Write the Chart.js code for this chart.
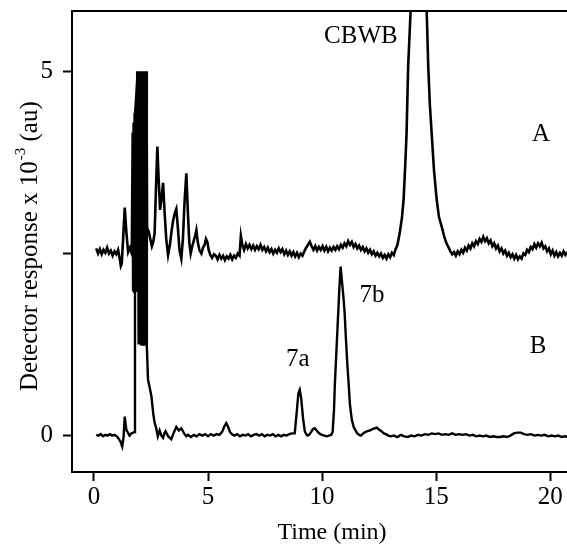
<!DOCTYPE html>
<html>
<head>
<meta charset="utf-8">
<script src="https://cdn.jsdelivr.net/npm/chart.js@4/dist/chart.umd.min.js"></script>
<style>
html,body{margin:0;padding:0;background:#fff;}
#wrap{width:567px;height:544px;position:relative;}
</style>
</head>
<body>
<div id="wrap"><canvas id="c" width="567" height="544"></canvas></div>
<script>
// ---- Data ----
// Trace A (offset chromatogram, CBWB)
const timeA = [
  0.10,0.18,0.26,0.34,0.42,0.50,0.58,0.66,0.74,0.82,0.90,0.98,1.06,1.12,1.18,1.22,1.28,1.35,1.42,1.50,1.58,1.66,
  1.70,1.72,1.74,1.76,1.78,1.80,1.82,1.84,1.86,1.88,1.90,1.92,1.94,1.96,1.98,2.00,2.02,2.04,2.06,2.08,2.10,2.12,2.14,2.16,2.18,2.20,2.22,2.24,2.26,2.28,2.30,
  2.33,2.40,2.47,2.54,2.60,2.66,2.72,2.78,2.84,2.90,2.96,3.03,3.10,3.17,3.25,3.33,3.40,3.47,3.54,3.61,3.68,3.75,3.83,3.90,3.97,4.05,4.12,4.18,4.24,4.31,4.38,4.44,4.49,4.55,4.62,4.71,4.78,4.85,4.91,4.97,5.03,5.10,5.18,5.26,
  5.34,5.42,5.50,5.58,5.66,5.74,5.82,5.90,5.98,6.06,6.14,6.22,6.30,6.38,6.44,6.50,6.58,6.66,6.74,6.82,6.90,6.98,7.06,7.14,7.22,7.30,7.38,7.46,7.54,7.62,7.70,7.78,7.86,7.94,8.02,8.10,8.18,8.26,8.34,8.42,8.50,8.58,8.66,8.74,8.82,8.90,8.98,9.06,9.14,9.22,9.30,9.38,9.46,9.54,9.62,9.70,9.78,9.86,9.94,10.02,10.10,10.18,10.26,10.34,10.42,10.50,10.58,10.66,10.74,10.82,10.90,10.98,11.06,11.14,11.22,11.30,11.38,11.46,11.54,11.62,11.70,11.78,11.86,11.94,12.02,12.10,12.18,12.26,12.34,12.42,12.50,12.58,12.66,12.74,12.82,12.90,12.98,13.06,13.14,13.22,
  13.30,13.40,13.50,13.57,13.64,13.70,13.77,13.88,14.00,14.10,14.22,14.35,14.45,14.58,14.65,14.72,14.80,14.90,15.02,15.12,15.24,15.36,15.45,15.53,15.62,15.70,
  15.78,15.86,15.94,16.02,16.10,16.18,16.26,16.34,16.42,16.50,16.58,16.66,16.74,16.82,16.90,16.98,17.06,17.14,17.22,17.30,17.38,17.46,17.54,17.62,17.70,17.78,17.86,17.94,18.02,18.10,18.18,18.26,18.34,18.42,18.50,18.58,18.66,18.74,18.82,18.90,18.98,19.06,19.14,19.22,19.30,19.38,19.46,19.54,19.62,19.70,19.78,19.86,19.94,20.02,20.10,20.18,20.26,20.34,20.42,20.50,20.58,20.66,20.74,20.82
];
const respA = [
  2.57,2.50,2.56,2.49,2.55,2.51,2.58,2.50,2.54,2.47,2.53,2.49,2.55,2.45,2.33,2.36,2.70,3.13,2.80,2.52,2.58,2.50,
  4.16,2.00,4.30,1.98,4.43,2.00,4.50,1.97,4.62,2.00,5.00,1.97,5.00,2.00,5.00,1.97,5.00,2.00,5.00,1.97,5.00,2.00,5.00,1.97,5.00,2.00,5.00,1.97,5.00,2.00,5.00,
  2.85,2.80,2.70,2.60,2.66,2.78,3.40,3.97,3.50,3.10,3.25,3.47,3.05,2.70,2.48,2.62,2.80,2.95,3.05,3.11,2.85,2.55,2.43,2.70,3.20,3.60,3.05,2.65,2.50,2.60,2.68,2.75,2.82,2.66,2.55,2.50,2.58,2.62,2.70,2.66,2.55,2.48,2.44,2.49,
  2.47,2.42,2.48,2.43,2.47,2.41,2.46,2.43,2.48,2.42,2.47,2.44,2.50,2.47,2.74,2.62,2.55,2.63,2.57,2.62,2.56,2.61,2.55,2.60,2.56,2.62,2.55,2.59,2.53,2.58,2.52,2.56,2.50,2.55,2.51,2.57,2.52,2.56,2.49,2.54,2.48,2.53,2.47,2.52,2.46,2.51,2.45,2.50,2.47,2.53,2.58,2.62,2.66,2.60,2.55,2.60,2.54,2.59,2.55,2.60,2.54,2.59,2.53,2.58,2.54,2.59,2.55,2.60,2.56,2.62,2.58,2.64,2.60,2.67,2.62,2.66,2.59,2.63,2.57,2.61,2.55,2.59,2.53,2.57,2.51,2.55,2.49,2.53,2.47,2.51,2.46,2.50,2.44,2.48,2.43,2.49,2.45,2.51,2.48,2.56,
  2.62,2.78,3.00,3.24,3.70,4.15,5.07,5.85,6.90,7.55,7.90,7.60,6.95,5.85,5.07,4.55,4.15,3.65,3.24,3.00,2.87,2.72,2.64,2.59,2.53,2.49,
  2.52,2.47,2.53,2.49,2.55,2.51,2.58,2.54,2.61,2.57,2.64,2.60,2.67,2.63,2.70,2.66,2.73,2.67,2.71,2.64,2.68,2.60,2.64,2.57,2.61,2.53,2.57,2.50,2.54,2.47,2.51,2.45,2.49,2.43,2.48,2.42,2.46,2.43,2.50,2.48,2.55,2.52,2.59,2.56,2.63,2.58,2.64,2.60,2.65,2.57,2.60,2.53,2.57,2.49,2.54,2.47,2.52,2.46,2.51,2.47,2.53,2.48,2.52,2.49
];
// Trace B (7a / 7b)
const timeB = [
  0.10,0.20,0.30,0.40,0.50,0.60,0.70,0.80,0.90,1.00,1.08,1.16,1.24,1.30,1.35,1.42,1.49,1.56,1.64,1.72,1.77,1.80,1.86,1.92,
  1.96,1.98,2.00,2.02,2.04,2.06,2.08,2.10,2.12,2.14,2.16,2.18,2.20,2.22,2.24,2.26,2.28,2.30,2.32,
  2.37,2.45,2.52,2.60,2.66,2.73,2.80,2.88,2.96,3.03,3.10,3.14,3.25,3.39,3.50,3.61,3.72,3.83,3.95,4.05,4.12,4.25,4.38,4.50,4.62,4.75,4.88,5.00,5.12,5.25,5.38,5.50,5.62,5.72,5.80,5.88,5.96,6.04,6.15,6.28,6.40,6.52,6.64,6.76,6.88,7.00,7.12,7.24,7.36,7.48,7.60,7.72,7.84,7.96,8.08,8.20,8.32,8.44,8.56,8.68,
  8.80,8.88,8.96,9.02,9.08,9.16,9.24,9.30,9.36,9.43,9.52,9.60,9.68,9.76,9.84,9.92,10.00,10.10,10.20,10.30,10.40,
  10.46,10.52,10.56,10.64,10.70,10.76,10.81,10.86,10.92,10.98,11.04,11.10,11.16,11.22,11.30,11.38,11.46,11.54,11.62,11.70,
  11.80,11.90,12.00,12.10,12.20,12.30,12.40,12.50,12.60,12.70,12.80,12.90,13.00,13.15,13.30,13.45,13.60,13.75,13.90,14.05,14.20,14.35,14.50,14.65,14.80,14.95,15.10,15.25,15.40,15.55,15.70,15.85,16.00,16.15,16.30,16.45,16.60,16.75,16.90,17.05,17.20,17.35,17.50,17.65,17.80,17.95,18.10,18.25,18.40,18.55,18.70,18.85,19.00,19.15,19.30,19.45,19.60,19.75,19.90,20.05,20.20,20.35,20.50,20.65,20.80
];
const respB = [
  0.01,0.00,0.02,-0.01,0.01,0.00,0.02,0.00,0.01,-0.01,-0.04,-0.08,-0.15,-0.02,0.26,0.08,0.04,0.00,0.03,0.04,0.05,4.40,4.70,5.00,
  1.25,5.00,1.25,5.00,1.25,5.00,1.25,5.00,1.25,5.00,1.25,5.00,1.25,5.00,1.25,5.00,1.25,5.00,1.22,
  0.77,0.65,0.54,0.30,0.18,0.10,-0.01,0.07,0.00,-0.03,0.04,0.06,-0.01,-0.05,0.04,0.12,0.07,0.10,0.03,-0.01,0.01,-0.02,0.01,-0.01,0.02,0.00,0.02,-0.01,0.02,0.00,0.02,0.01,0.05,0.13,0.17,0.12,0.05,0.02,0.00,0.02,-0.01,0.01,0.00,0.02,-0.01,0.01,0.02,0.00,0.02,-0.01,0.01,0.00,0.02,-0.01,0.01,-0.01,0.01,0.00,0.02,0.03,
  0.03,0.30,0.58,0.63,0.52,0.25,0.06,0.02,0.00,0.01,0.05,0.09,0.10,0.07,0.04,0.02,0.01,0.00,-0.01,0.00,0.01,
  0.05,0.35,0.72,1.25,1.65,2.05,2.32,2.15,1.95,1.72,1.35,1.00,0.72,0.42,0.22,0.12,0.07,0.03,0.01,0.00,
  0.03,0.05,0.06,0.07,0.09,0.10,0.11,0.08,0.06,0.03,0.02,0.00,-0.01,0.00,-0.02,0.01,-0.01,-0.02,0.00,-0.01,0.01,0.00,0.02,0.01,0.03,0.02,0.03,0.01,0.02,0.01,0.03,0.01,0.02,0.01,0.02,0.00,0.01,-0.01,0.00,-0.01,0.00,-0.02,-0.01,-0.02,-0.02,-0.01,-0.02,0.00,0.03,0.04,0.04,0.02,0.01,0.02,0.00,0.01,0.00,0.01,-0.01,0.00,-0.01,0.00,-0.02,-0.01,-0.02
];
// Axis ticks
const xTicks = [0, 5, 10, 15, 20];
const yTicks = [0, 2.5, 5];
const yTickLabels = {0: '0', 5: '5'};
// Text labels on the plot
const labelTexts = ['CBWB', 'A', '7b', '7a', 'B'];
const labelX = [11.7, 19.59, 12.18, 8.93, 19.46];
const labelY = [5.48, 4.13, 1.92, 1.04, 1.22];

// ---- Chart ----
const SERIF = '"Liberation Serif", "Times New Roman", serif';
const toPts = (xs, ys) => xs.map((x, i) => ({x: x, y: ys[i]}));

const annotate = {
  id: 'annotate',
  afterDraw(chart) {
    const ctx = chart.ctx, a = chart.chartArea;
    const sx = chart.scales.x, sy = chart.scales.y;
    ctx.save();
    // top frame line
    ctx.strokeStyle = '#000'; ctx.lineWidth = 2;
    ctx.beginPath(); ctx.moveTo(a.left - 1, a.top); ctx.lineTo(a.right, a.top); ctx.stroke();
    ctx.fillStyle = '#000';
    ctx.textAlign = 'center'; ctx.textBaseline = 'middle';
    ctx.font = '25px ' + SERIF;
    labelTexts.forEach((t, i) => {
      ctx.fillText(t, sx.getPixelForValue(labelX[i]), sy.getPixelForValue(labelY[i]));
    });
    // x title
    ctx.font = '24px ' + SERIF;
    ctx.fillText('Time (min)', 332, 533);
    // y title with superscript
    ctx.translate(37, 391);
    ctx.rotate(-Math.PI / 2);
    ctx.textAlign = 'left'; ctx.textBaseline = 'alphabetic';
    ctx.font = '25px ' + SERIF;
    const t1 = 'Detector response x 10';
    ctx.fillText(t1, 0, 0);
    let w = ctx.measureText(t1).width + 1;
    ctx.font = '15px ' + SERIF;
    ctx.fillText('-3', w, -12);
    w += ctx.measureText('-3').width;
    ctx.font = '25px ' + SERIF;
    ctx.fillText(' (au)', w, 0);
    ctx.restore();
  }
};

new Chart(document.getElementById('c'), {
  type: 'line',
  data: {
    datasets: [
      {label: 'A', data: toPts(timeA, respA), borderColor: '#000', borderWidth: 2.6, pointRadius: 0, tension: 0, fill: false},
      {label: 'B', data: toPts(timeB, respB), borderColor: '#000', borderWidth: 2.4, pointRadius: 0, tension: 0, fill: false}
    ]
  },
  options: {
    responsive: false,
    animation: false,
    events: [],
    layout: {padding: {top: 11, left: 0, right: 0, bottom: 0}},
    plugins: {legend: {display: false}, tooltip: {enabled: false}},
    scales: {
      x: {
        type: 'linear', min: -0.96, max: 20.73,
        afterBuildTicks: s => { s.ticks = xTicks.map(v => ({value: v})); },
        afterFit: s => { s.height = 72; s.paddingLeft = 0; s.paddingRight = 0; },
        ticks: {color: '#000', font: {family: SERIF, size: 25}, padding: 1, maxRotation: 0},
        grid: {drawOnChartArea: false, drawTicks: true, tickLength: 9, tickWidth: 2, tickColor: '#000'},
        border: {display: true, color: '#000', width: 2}
      },
      y: {
        type: 'linear', min: -0.5, max: 5.83,
        afterBuildTicks: s => { s.ticks = yTicks.map(v => ({value: v})); },
        afterFit: s => { s.width = 72; s.paddingTop = 0; s.paddingBottom = 0; },
        ticks: {color: '#000', font: {family: SERIF, size: 25}, padding: 10, callback: v => (yTickLabels[v] !== undefined ? yTickLabels[v] : '')},
        grid: {drawOnChartArea: false, drawTicks: true, tickLength: 9, tickWidth: 2, tickColor: '#000'},
        border: {display: true, color: '#000', width: 2}
      }
    }
  },
  plugins: [annotate]
});
</script>
</body>
</html>
